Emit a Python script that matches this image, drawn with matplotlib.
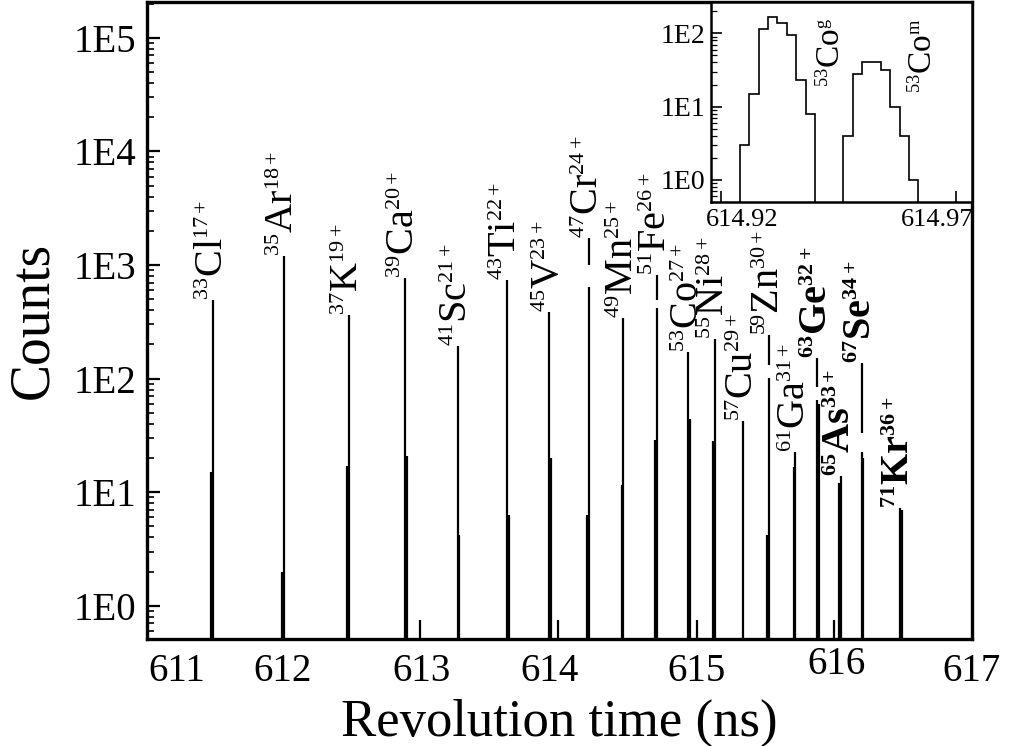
import numpy as np
import matplotlib.pyplot as plt
import matplotlib._mathtext as mathtext_internals
from matplotlib import ticker
from matplotlib.transforms import ScaledTranslation

# smaller super/subscripts, closer to the original figure
mathtext_internals.SHRINK_FACTOR = 0.55

plt.rcParams['font.family'] = 'Liberation Serif'
plt.rcParams['mathtext.fontset'] = 'custom'
plt.rcParams['mathtext.rm'] = 'Liberation Serif'
plt.rcParams['mathtext.bf'] = 'Liberation Serif:bold'
plt.rcParams['mathtext.it'] = 'Liberation Serif:italic'

# ---- main spectrum (T_z = -1/2 ions) ----
mass = [33, 35, 37, 39, 41, 43, 45, 47, 49, 51, 53, 55, 57, 59, 61, 63, 65, 67, 71]
elem = ['Cl', 'Ar', 'K', 'Ca', 'Sc', 'Ti', 'V', 'Cr', 'Mn', 'Fe',
        'Co', 'Ni', 'Cu', 'Zn', 'Ga', 'Ge', 'As', 'Se', 'Kr']
charge = [17, 18, 19, 20, 21, 22, 23, 24, 25, 26, 27, 28, 29, 30, 31, 32, 33, 34, 36]
bold = ['Ge', 'As', 'Se', 'Kr']

t_peak = [611.479, 611.994, 612.469, 612.876, 613.260, 613.618, 613.927, 614.213,
          614.465, 614.706, 614.935, 615.131, 615.335, 615.524, 615.716, 615.873,
          616.047, 616.198, 616.476]
n_peak = [494, 1190, 364, 771, 192, 741, 390, 640, 343, 420, 172, 224, 42, 102,
          22.7, 65, 13.9, 22.7, 7.3]
# neighbouring bin of each peak (side: -1 left, +1 right)
n_side = [15, 2, 17, 21, 4.2, 6.3, 20, 6.3, 11.6, 29, 44, 28, 0, 4.2, 16.8, 60, 12, 20, 7]
side = [-1, -1, -1, 1, 1, 1, 1, -1, -1, -1, 1, -1, -1, -1, -1, 1, -1, 1, 1]

# upper part of the peaks that are broken below the label
gap_ion = ['Cr', 'Fe', 'Zn', 'Ge', 'Se']
gap_lo = [1000, 494, 132, 85, 33]
gap_hi = [1735, 820, 243, 152, 138]

# weak unlabelled peaks
t_small = [612.985, 613.989, 614.998, 615.994]
n_small = [0.75, 0.75, 0.75, 0.75]

xticks = [611, 612, 613, 614, 615, 616, 617]
xtick_dx = [30, -2, 0, -10, 0, 2, 0]   # label shifts in px, as in the original
xtick_dy = [0, 0, 0, 0, 0, 7, 0]

# ---- inset: 53Co ground and isomeric state ----
co_counts = [3, 15, 114, 166, 137, 95, 23, 8, 0, 0, 0, 4, 28, 41, 41, 32, 10, 4, 1]
co_t0 = 614.924
co_bin = 0.002

fig = plt.figure(figsize=(10.11, 7.46), dpi=100)
ax = fig.add_axes([0.1454, 0.1434, 0.8160, 0.8539])
ax.set_yscale('log')
ax.set_xlim(611, 617)
ax.set_ylim(0.51, 2.07e5)
ymin = ax.get_ylim()[0]

lw = 1.6
dt = 0.012
ax.vlines(t_peak, ymin, n_peak, colors='k', lw=lw)
t_side = np.array(t_peak) + np.array(side) * dt
has_side = np.array(n_side) > 0
ax.vlines(t_side[has_side], ymin, np.array(n_side)[has_side], colors='k', lw=lw)
ax.vlines(t_small, ymin, n_small, colors='k', lw=lw)
t_gap = [t_peak[elem.index(e)] for e in gap_ion]
ax.vlines(t_gap, gap_lo, gap_hi, colors='k', lw=lw)

for i, e in enumerate(elem):
    top = gap_hi[gap_ion.index(e)] if e in gap_ion else n_peak[i]
    if e in bold:
        s = r'$\mathbf{^{%d}%s^{%d+}}$' % (mass[i], e, charge[i])
    else:
        s = r'$^{%d}\mathrm{%s}^{%d+}$' % (mass[i], e, charge[i])
    ax.text(t_peak[i], top, s, rotation=90, ha='center', va='bottom', fontsize=29)

for sp in ax.spines.values():
    sp.set_linewidth(2.4)

ax.yaxis.set_major_locator(ticker.LogLocator(base=10, numticks=10))
ax.yaxis.set_minor_locator(ticker.LogLocator(base=10, subs=np.arange(2, 10), numticks=20))
ax.yaxis.set_minor_formatter(ticker.NullFormatter())
ax.yaxis.set_major_formatter(ticker.FuncFormatter(lambda v, p: '1E%d' % round(np.log10(v))))
ax.tick_params(axis='y', which='major', direction='in', length=9, width=1.6, labelsize=28, pad=8)
ax.tick_params(axis='y', which='minor', direction='in', length=5, width=1.2)
ax.set_xticks(xticks)
ax.tick_params(axis='x', length=0, labelsize=28, pad=10)
for lab, dx, dy in zip(ax.get_xticklabels(), xtick_dx, xtick_dy):
    lab.set_transform(lab.get_transform() + ScaledTranslation(dx / 100, dy / 100, fig.dpi_scale_trans))

ax.set_xlabel('Revolution time (ns)', fontsize=38, labelpad=6)
ax.set_ylabel('Counts', fontsize=40, labelpad=10)

# ---- inset ----
axi = fig.add_axes([0.7033, 0.7292, 0.2582, 0.2681])
axi.set_yscale('log')
edges = co_t0 + co_bin * np.arange(len(co_counts) + 1)
axi.stairs(co_counts, edges, baseline=0, color='k', lw=1.2)
axi.set_xlim(614.9179, 614.9734)
axi.set_ylim(0.5, 267)
for sp in axi.spines.values():
    sp.set_linewidth(1.8)

axi.yaxis.set_major_locator(ticker.LogLocator(base=10, numticks=10))
axi.yaxis.set_minor_locator(ticker.LogLocator(base=10, subs=np.arange(2, 10), numticks=20))
axi.yaxis.set_minor_formatter(ticker.NullFormatter())
axi.yaxis.set_major_formatter(ticker.FuncFormatter(lambda v, p: '1E%d' % round(np.log10(v))))
axi.tick_params(axis='y', which='major', direction='in', length=8, width=1.2, labelsize=20, pad=4)
axi.tick_params(axis='y', which='minor', direction='in', length=4, width=0.9)
axi.set_xticks([614.92, 614.97])
axi.set_xticklabels(['614.92', '614.97'])
axi.tick_params(axis='x', direction='in', length=8, width=1.2, labelsize=19, pad=5)
for lab, dx in zip(axi.get_xticklabels(), [21, -19]):
    lab.set_transform(lab.get_transform() + ScaledTranslation(dx / 100, 0, fig.dpi_scale_trans))

axi.text(614.9436, 18.6, r'$^{53}\mathrm{Co}^{\mathrm{g}}$', rotation=90, ha='center', va='bottom', fontsize=24)
axi.text(614.9632, 15.4, r'$^{53}\mathrm{Co}^{\mathrm{m}}$', rotation=90, ha='center', va='bottom', fontsize=24)

fig.savefig('out.png', dpi=100)
